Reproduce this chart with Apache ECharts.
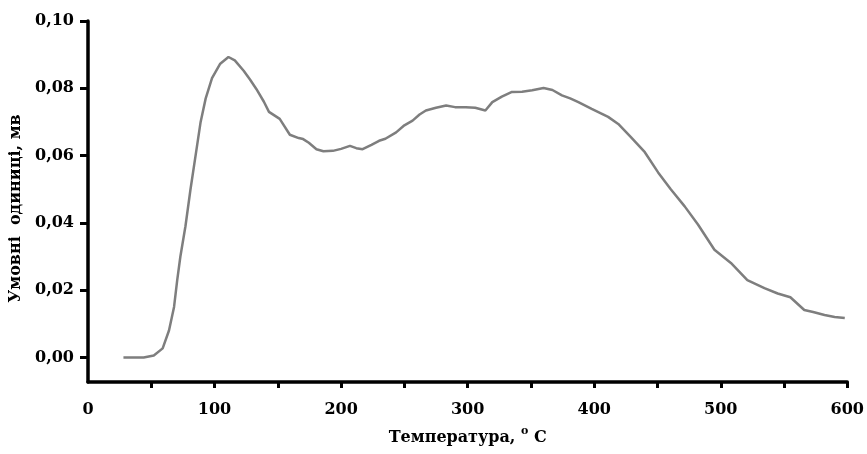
<!DOCTYPE html>
<html>
<head>
<meta charset="utf-8">
<script src="https://cdn.jsdelivr.net/npm/echarts@6/dist/echarts.min.js"></script>
<style>
html,body{margin:0;padding:0;background:#fff;}
#c{width:867px;height:454px;}
</style>
</head>
<body>
<div id="c"></div>
<script>
var temperature = [28,44,52,59,64,68,70.5,73,77,81,85,89,93,98,104.5,111,116,123,128,133,139,143,151.5,159.5,166.5,170,174.5,180.5,186,193.5,200,207,212,217,224,230,235,243.5,250,256.5,262,267,275,283,290,298.5,306,314,319.5,327,335,343,351,360,367,374.5,381,387.5,398,411,419,429,440,450.5,460.5,471.5,482,495,508,521,534.5,545,555,566,573,582,590,598];
var signal = [0,0,0.0006,0.0027,0.008,0.015,0.023,0.030,0.039,0.050,0.060,0.070,0.077,0.083,0.0873,0.0893,0.0883,0.0852,0.0826,0.0798,0.0760,0.0730,0.0709,0.0662,0.0652,0.0649,0.0638,0.0619,0.0613,0.0614,0.0620,0.0629,0.0622,0.0619,0.0632,0.0644,0.0650,0.0669,0.0690,0.0704,0.0722,0.0734,0.0742,0.0749,0.0744,0.0744,0.0742,0.0734,0.0759,0.0775,0.0789,0.0790,0.0794,0.0801,0.0795,0.0779,0.0770,0.0759,0.0739,0.0715,0.0694,0.0655,0.0610,0.0550,0.0500,0.0449,0.0395,0.0320,0.0281,0.0230,0.0206,0.0190,0.0179,0.0141,0.0135,0.0126,0.0120,0.0117];
var xLabelValues = [0,100,200,300,400,500,600];
var xTickValues = [50,100,150,200,250,300,350,400,450,500,550,600];
var yTickValues = [0,0.02,0.04,0.06,0.08,0.10];
var xTitle = 'Температура, ';
var yTitle = 'Умовні  одиниці, мв';

var FONT = 'DejaVu Serif';
var data = temperature.map(function(t,i){return [t, signal[i]];});
var chart = echarts.init(document.getElementById('c'), null, {renderer:'canvas'});
chart.setOption({
  animation:false,
  backgroundColor:'#fff',
  grid:{left:88,right:17,top:21,bottom:72},
  xAxis:{
    type:'value',min:0,max:600,
    axisLine:{onZero:false,lineStyle:{color:'#000',width:3.5}},
    axisTick:{show:true,customValues:xTickValues,length:6,lineStyle:{color:'#000',width:3}},
    axisLabel:{customValues:xLabelValues,margin:20,color:'#000',fontFamily:FONT,fontWeight:'bold',fontSize:16},
    splitLine:{show:false},
    name:'{t|'+xTitle+'}{s|o}{t| C}',
    nameLocation:'middle',nameGap:44,
    nameTextStyle:{
      rich:{
        t:{fontFamily:FONT,fontWeight:'bold',fontSize:16,color:'#000',verticalAlign:'bottom',lineHeight:20},
        s:{fontFamily:FONT,fontWeight:'bold',fontSize:11,color:'#000',verticalAlign:'top',lineHeight:20,padding:[0,0,8,0]}
      }
    }
  },
  yAxis:{
    type:'value',min:-0.0073,max:0.1,
    axisLine:{show:true,lineStyle:{color:'#000',width:3.5}},
    axisTick:{show:true,customValues:yTickValues,length:8,lineStyle:{color:'#000',width:3}},
    axisLabel:{customValues:yTickValues,margin:14,color:'#000',fontFamily:FONT,fontWeight:'bold',fontSize:16,
      formatter:function(v){return v.toFixed(2).replace('.',',');}},
    splitLine:{show:false},
    name:yTitle,nameLocation:'middle',nameRotate:90,nameGap:62,
    nameTextStyle:{fontFamily:FONT,fontWeight:'bold',fontSize:16,color:'#000',padding:[0,14,0,0]}
  },
  series:[{
    type:'line',data:data,showSymbol:false,smooth:false,
    lineStyle:{color:'#7e7e7e',width:2.5}
  }]
});
</script>
</body>
</html>
